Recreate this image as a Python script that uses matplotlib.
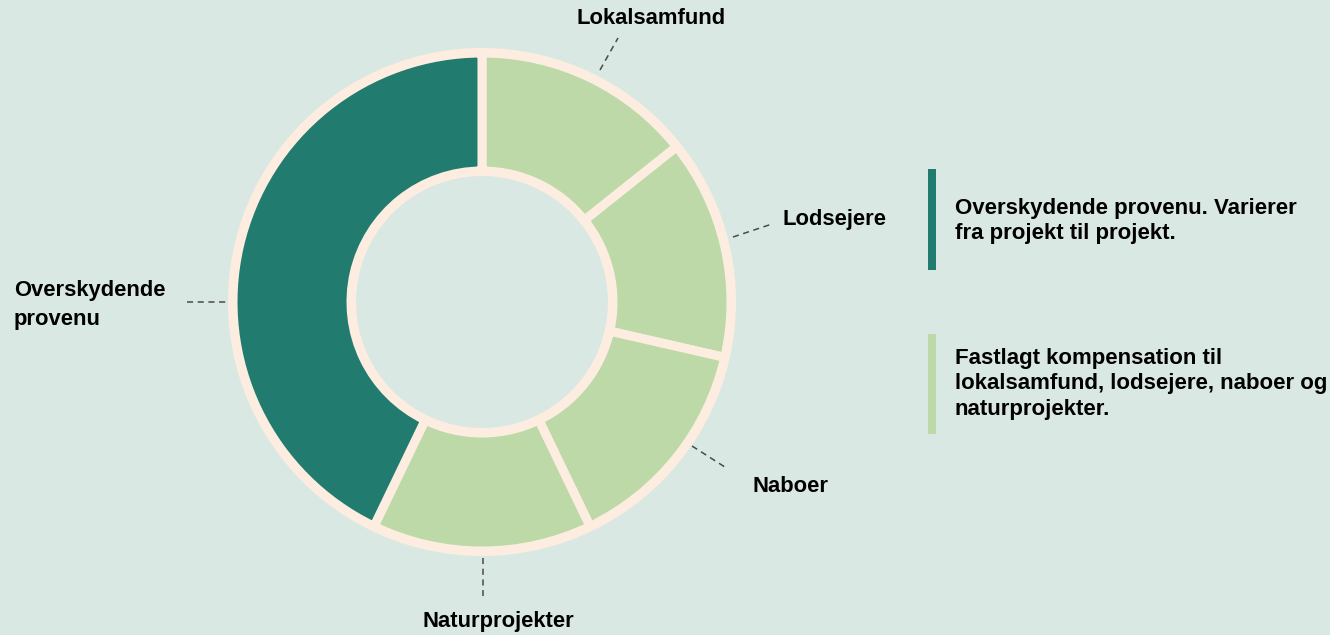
import matplotlib.pyplot as plt
from matplotlib.patches import Wedge, Rectangle

# data
labels = ['Lokalsamfund', 'Lodsejere', 'Naboer', 'Naturprojekter', 'Overskydende\nprovenu']
shares = [1, 1, 1, 1, 3]
legend_texts = ['Overskydende provenu. Varierer\nfra projekt til projekt.',
                'Fastlagt kompensation til\nlokalsamfund, lodsejere, naboer og\nnaturprojekter.']

# colours
bg = '#dae8e4'
teal = '#217c6f'
light = '#bdd9a8'
cream = '#fdede0'
slice_colors = [light, light, light, light, teal]

plt.rcParams['font.family'] = ['Liberation Sans', 'DejaVu Sans']

W, H = 1330, 635
fig = plt.figure(figsize=(W / 100, H / 100), dpi=100, facecolor=bg)
ax = fig.add_axes([0, 0, 1, 1])
ax.set_facecolor(bg)

cx, cy = 482, H - 302

# cream ring under the slices
ax.add_patch(Wedge((cx, cy), 254, 0, 360, width=128, facecolor=cream, edgecolor='none'))
ax.pie(shares, colors=slice_colors, startangle=90, counterclock=False,
       radius=249, center=(cx, cy), frame=True,
       wedgeprops=dict(width=118, edgecolor=cream, linewidth=6.5))
ax.set_xlim(0, W)
ax.set_ylim(0, H)
ax.set_aspect('equal')
ax.axis('off')

# leader lines (image coordinates) and labels
dash = (0, (4, 3))
leaders = [((600, 70), (618, 38)),
           ((733, 237), (772, 224)),
           ((692, 446), (728, 469)),
           ((483, 558), (483, 596)),
           ((187, 302), (226, 302))]
for (x0, y0), (x1, y1) in leaders:
    ax.plot([x0, x1], [H - y0, H - y1], color='#4a4a4a', lw=1.1, linestyle=dash)

fs = 15.8
ax.text(651, H - 18, labels[0], ha='center', va='center', fontsize=fs, fontweight='bold')
ax.text(782, H - 220, labels[1], ha='left', va='center', fontsize=fs, fontweight='bold')
ax.text(752, H - 487, labels[2], ha='left', va='center', fontsize=fs, fontweight='bold')
ax.text(498, H - 622, labels[3], ha='center', va='center', fontsize=fs, fontweight='bold')
ax.text(14, H - 305, labels[4], ha='left', va='center', fontsize=fs, fontweight='bold',
        linespacing=1.45)

# legend blocks
ax.add_patch(Rectangle((928, H - 270), 8, 101, facecolor=teal, edgecolor='none'))
ax.add_patch(Rectangle((928, H - 434), 8, 100, facecolor=light, edgecolor='none'))
ax.text(955, H - 221, legend_texts[0], ha='left', va='center', fontsize=16,
        fontweight='bold', linespacing=1.3)
ax.text(955, H - 384, legend_texts[1], ha='left', va='center', fontsize=16,
        fontweight='bold', linespacing=1.3)

fig.savefig('out.png', dpi=100, facecolor=bg)
